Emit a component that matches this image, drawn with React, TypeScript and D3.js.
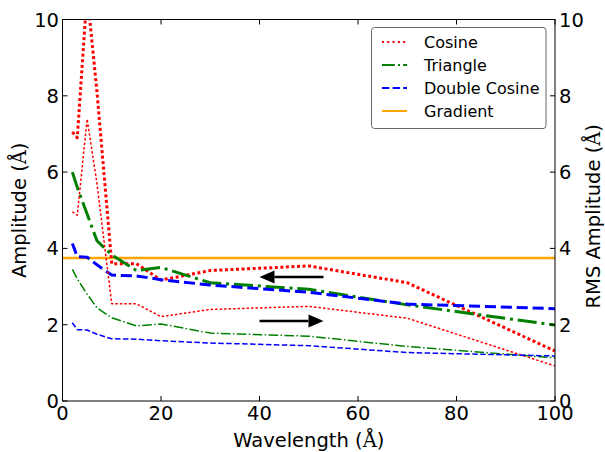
import React from "react";
import * as d3 from "d3";

// ---- data ----
const wavelengths = [2, 3, 5, 7, 10, 15, 20, 30, 50, 70, 100];
const cosineAmp = [7.05, 6.9, 10.7, 8.1, 3.6, 3.6, 3.17, 3.42, 3.54, 3.1, 1.31];
const cosineRms = [4.96, 4.87, 7.39, 5.7, 2.55, 2.55, 2.21, 2.4, 2.48, 2.17, 0.92];
const triangleAmp = [6.0, 5.6, 4.9, 4.2, 3.83, 3.42, 3.5, 3.1, 2.93, 2.52, 1.99];
const triangleRms = [3.45, 3.2, 2.8, 2.44, 2.18, 1.97, 2.02, 1.78, 1.7, 1.43, 1.13];
const doubleCosAmp = [4.13, 3.78, 3.77, 3.57, 3.3, 3.28, 3.18, 3.04, 2.85, 2.54, 2.42];
const doubleCosRms = [2.05, 1.87, 1.86, 1.75, 1.63, 1.62, 1.58, 1.52, 1.45, 1.27, 1.18];
const gradientLevel = 3.75;
const xDomain = [0, 100];
const yDomain = [0, 10];
const xTicks = [0, 20, 40, 60, 80, 100];
const yTicks = [0, 2, 4, 6, 8, 10];
const legendLabels = ["Cosine", "Triangle", "Double Cosine", "Gradient"];
// arrows: [x1, y1, x2, y2] in data units (tail -> head)
const arrowAmp = [53, 3.25, 40, 3.25];
const arrowRms = [40, 2.1, 53, 2.1];

const W = 605;
const H = 452;
const M = { left: 62.5, right: 555, top: 19.5, bottom: 401 };

const RED = "#ff0000";
const GREEN = "#008000";
const BLUE = "#0000ff";
const ORANGE = "#ffa500";

const dotted = (lw: number) => `${1 * lw},${0.85 * lw}`;
const dashed = (lw: number) => `${3.7 * lw},${1.6 * lw}`;
const dashdot = (lw: number) => `${6.4 * lw},${1.6 * lw},${1 * lw},${1.6 * lw}`;

const SANS = "'DejaVu Sans', sans-serif";
const SERIF = "'DejaVu Serif', serif";

export default function App() {
  const x = d3.scaleLinear().domain(xDomain).range([M.left, M.right]);
  const y = d3.scaleLinear().domain(yDomain).range([M.bottom, M.top]);
  const line = d3
    .line<number>()
    .x((_, i) => x(wavelengths[i]))
    .y((d) => y(d));

  const thick = 3;
  const thin = 1.5;
  const series = [
    { d: cosineAmp, c: RED, lw: thick, dash: dotted(thick) },
    { d: triangleAmp, c: GREEN, lw: thick, dash: dashdot(thick) },
    { d: doubleCosAmp, c: BLUE, lw: thick, dash: dashed(thick) },
    { d: cosineRms, c: RED, lw: thin, dash: "2.5,2" },
    { d: triangleRms, c: GREEN, lw: thin, dash: dashdot(thin) },
    { d: doubleCosRms, c: BLUE, lw: thin, dash: dashed(thin) },
  ];

  const legLw = 2;
  const legendItems = [
    { c: RED, dash: `${legLw},${1.65 * legLw}` },
    { c: GREEN, dash: dashdot(legLw) },
    { c: BLUE, dash: dashed(legLw) },
    { c: ORANGE, dash: "none" },
  ];

  const arrow = (a: number[], key: string) => {
    const x1 = x(a[0]);
    const y1 = y(a[1]);
    const x2 = x(a[2]);
    const y2 = y(a[3]);
    const dir = Math.sign(x2 - x1);
    const headLen = 15;
    const headHalf = 6.5;
    const bx = x2 - dir * headLen;
    return (
      <g key={key}>
        <line x1={x1} y1={y1} x2={bx} y2={y2} stroke="#000" strokeWidth={2.5} />
        <path
          d={`M${x2},${y2} L${bx},${y2 - headHalf} L${bx},${y2 + headHalf} Z`}
          fill="#000"
        />
      </g>
    );
  };

  const tickLen = 5;
  const fs = 19.5;

  return (
    <svg
      width={W}
      height={H}
      style={{ position: "absolute", left: 0, top: 0, background: "#fff" }}
      fontFamily={SANS}
    >
      <rect x={0} y={0} width={W} height={H} fill="#fff" />
      <defs>
        <clipPath id="plotClip">
          <rect x={M.left} y={M.top} width={M.right - M.left} height={M.bottom - M.top} />
        </clipPath>
      </defs>

      <g clipPath="url(#plotClip)">
        <line
          x1={x(xDomain[0])}
          x2={x(xDomain[1])}
          y1={y(gradientLevel)}
          y2={y(gradientLevel)}
          stroke={ORANGE}
          strokeWidth={2.5}
        />
        {series.map((s, i) => (
          <path
            key={i}
            d={line(s.d) || ""}
            fill="none"
            stroke={s.c}
            strokeWidth={s.lw}
            strokeDasharray={s.dash}
            strokeLinejoin="round"
          />
        ))}
        {arrow(arrowAmp, "a1")}
        {arrow(arrowRms, "a2")}
      </g>

      {/* ticks */}
      {xTicks.map((t) => (
        <g key={"xt" + t}>
          <line x1={x(t)} x2={x(t)} y1={M.bottom} y2={M.bottom - tickLen} stroke="#000" />
          <line x1={x(t)} x2={x(t)} y1={M.top} y2={M.top + tickLen} stroke="#000" />
          <text x={x(t)} y={420} fontSize={fs} textAnchor="middle" fill="#000">
            {t}
          </text>
        </g>
      ))}
      {yTicks.map((t) => (
        <g key={"yt" + t}>
          <line x1={M.left} x2={M.left + tickLen} y1={y(t)} y2={y(t)} stroke="#000" />
          <line x1={M.right} x2={M.right - tickLen} y1={y(t)} y2={y(t)} stroke="#000" />
          <text x={59} y={y(t)} dy="0.36em" fontSize={fs} textAnchor="end" fill="#000">
            {t}
          </text>
          <text x={559} y={y(t)} dy="0.36em" fontSize={fs} textAnchor="start" fill="#000">
            {t}
          </text>
        </g>
      ))}

      {/* frame */}
      <rect
        x={M.left}
        y={M.top}
        width={M.right - M.left}
        height={M.bottom - M.top}
        fill="none"
        stroke="#000"
        strokeWidth={1}
      />

      {/* axis labels */}
      <text x={(M.left + M.right) / 2} y={447} fontSize={fs} textAnchor="middle" fill="#000">
        Wavelength (<tspan fontFamily={SERIF}>Å</tspan>)
      </text>
      <text
        transform={`translate(26,${(M.top + M.bottom) / 2}) rotate(-90)`}
        fontSize={fs}
        textAnchor="middle"
        fill="#000"
      >
        Amplitude (<tspan fontFamily={SERIF}>Å</tspan>)
      </text>
      <text
        transform={`translate(600,${(M.top + M.bottom) / 2 + 6}) rotate(-90)`}
        fontSize={fs}
        textAnchor="middle"
        fill="#000"
      >
        RMS Amplitude (<tspan fontFamily={SERIF}>Å</tspan>)
      </text>

      {/* legend */}
      <g>
        <rect
          x={371.5}
          y={27.5}
          width={174.5}
          height={101}
          rx={3}
          fill="#fff"
          fillOpacity={0.85}
          stroke="#666"
          strokeWidth={1}
        />
        {legendItems.map((it, i) => {
          const ly = 42 + i * 23;
          return (
            <g key={"lg" + i}>
              <line
                x1={382}
                x2={407}
                y1={ly}
                y2={ly}
                stroke={it.c}
                strokeWidth={legLw}
                strokeDasharray={it.dash}
              />
              <text x={424} y={ly + 5.5} fontSize={16} fill="#000">
                {legendLabels[i]}
              </text>
            </g>
          );
        })}
      </g>
    </svg>
  );
}
